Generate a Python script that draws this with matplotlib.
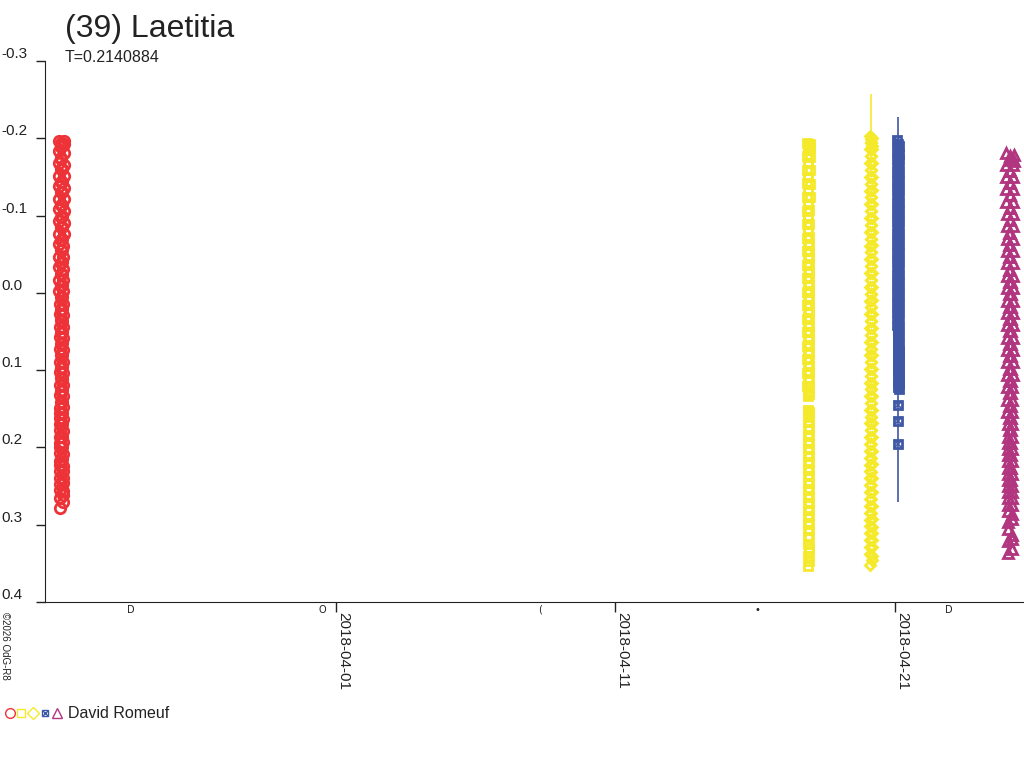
import numpy as np
import pandas as pd
import matplotlib
matplotlib.use("Agg")
import matplotlib.pyplot as plt
import matplotlib.dates as mdates
from matplotlib.ticker import FormatStrFormatter

plt.rcParams["font.family"] = ["Liberation Sans", "DejaVu Sans"]

# Object and period
title = "(39) Laetitia"
period_text = "T=0.2140884"
observer = "David Romeuf"

# Session 1: red circles (2018-03-22); minutes after start, mag in mmag
red_start = "2018-03-22 02:09"
red_min = [0, 2, 4, 6, 8, 10, 12, 14, 16, 18, 20, 22, 24, 26, 28, 30,
           32, 34, 36, 38, 40, 42, 44, 46, 48, 50, 52, 54, 56, 58, 60, 62,
           64, 66, 68, 70, 72, 74, 76, 78, 80, 82, 84, 86, 88, 90, 92, 94,
           96, 98, 100, 102, 104, 106, 108, 110, 112, 114, 116, 118, 120, 122, 124, 126,
           128, 130, 132, 134, 136, 138, 140, 142, 144, 146, 148, 150, 152, 154, 156, 158,
           160, 162, 164, 166, 168, 170, 172, 174, 176, 178, 180, 182, 184, 186, 188, 190,
           192, 194, 196, 198, 200, 202, 204, 206, 208, 210, 212, 214, 216, 218, 220, 222,
           224, 226, 228, 230, 232, 234, 236, 238, 240, 242, 244, 246, 248, 250, 252, 254]
red_mmag = [-197, -183, -168, -151, -138, -121, -108, -93, -76, -63, -47, -33, -16, -3, 14, 27,
            44, 57, 73, 89, 102, 119, 132, 149, 162, 178, 194, 207, 223, 239, 255, 279,
            266, 247, 230, 217, 200, 187, 170, 156, 141, 127, 110, 97, 80, 66, 52, 35,
            22, 5, -9, -25, -38, -55, -68, -85, -98, -114, -130, -143, -160, -173, -189, -194,
            -190, -175, -160, -144, -130, -114, -100, -85, -70, -55, -40, -25, -10, 6, 21, 36,
            51, 65, 81, 96, 111, 126, 141, 156, 170, 186, 200, 215, 231, 246, 262, 271,
            257, 240, 224, 209, 193, 179, 163, 148, 134, 119, 104, 89, 74, 59, 44, 29,
            14, -2, -17, -31, -46, -61, -76, -91, -106, -121, -136, -151, -166, -181, -192, -196]

# Session 2: yellow squares (2018-04-17)
ysq_start = "2018-04-17 20:33"
ysq_min = [0, 1, 2, 3, 4, 5, 6, 7, 8, 9, 10, 11, 12, 13, 14, 15,
           16, 17, 18, 19, 20, 21, 22, 23, 24, 25, 26, 27, 28, 29, 30, 31,
           32, 33, 34, 35, 36, 37, 38, 39, 40, 41, 42, 43, 44, 45, 46, 47,
           48, 49, 50, 51, 52, 53, 54, 55, 56, 57, 58, 59, 60, 61, 62, 63,
           64, 65, 66, 67, 68, 69, 70, 71, 72, 73, 74, 75, 76, 77, 78, 79,
           80, 81, 82, 83, 84, 85, 86, 87, 88, 89, 90, 91, 92, 93, 94, 95,
           96, 97, 98, 99, 100, 101, 102, 103, 104, 105, 106, 107, 108, 109, 110, 111,
           112, 113, 114, 115, 116, 117, 118, 119, 120, 121, 122, 123, 124, 125, 126, 127]
ysq_mmag = [-194, -177, -159, -142, -124, -106, -89, -71, -54, -36, -19, -1, 16, 34, 51, 69,
            86, 104, 121, 133, 152, 167, 185, 202, 220, 237, 255, 272, 290, 307, 325, 354,
            341, 316, 298, 281, 263, 246, 228, 211, 193, 176, 158, 153, 129, 112, 95, 77,
            60, 42, 25, 7, -10, -28, -45, -63, -80, -98, -115, -133, -150, -168, -185, -190,
            -185, -168, -150, -133, -115, -97, -80, -62, -45, -27, -10, 8, 25, 43, 60, 78,
            95, 113, 127, 154, 160, 176, 194, 211, 229, 246, 264, 281, 299, 316, 334, 347,
            330, 307, 289, 272, 254, 237, 219, 202, 184, 167, 156, 131, 121, 103, 86, 68,
            51, 33, 16, -2, -19, -37, -54, -72, -89, -107, -124, -141, -159, -176, -192, -187]

# Session 3: yellow diamonds (2018-04-20)
ydi_start = "2018-04-20 02:17"
ydi_min = [0, 1, 2, 3, 4, 5, 6, 7, 8, 9, 10, 11, 12, 13, 14, 15,
           16, 17, 18, 19, 20, 21, 22, 23, 24, 25, 26, 27, 28, 29, 30, 31,
           32, 33, 34, 35, 36, 37, 38, 39, 40, 41, 42, 43, 44, 45, 46, 47,
           48, 49, 50, 51, 52, 53, 54, 55, 56, 57, 58, 59, 60, 61, 62, 63,
           64, 65, 66, 67, 68, 69, 70, 71, 72, 73, 74, 75, 76, 77, 78, 79,
           80, 81, 82, 83, 84, 85, 86, 87, 88, 89, 90, 91, 92, 93, 94, 95,
           96, 97, 98, 99, 100, 101, 102, 103, 104, 105, 106, 107, 108, 109, 110, 111,
           112, 113, 114, 115, 116, 117, 118, 119, 120, 121, 122, 123, 124, 125, 126, 127]
ydi_mmag = [-203, -186, -168, -150, -132, -115, -97, -79, -61, -44, -26, -8, 10, 27, 45, 63,
            81, 98, 116, 134, 152, 169, 187, 205, 223, 240, 258, 276, 294, 311, 329, 352,
            338, 320, 302, 285, 267, 249, 231, 214, 196, 178, 160, 143, 125, 107, 89, 72,
            54, 36, 18, 1, -17, -35, -53, -70, -88, -106, -124, -141, -159, -177, -194, -199,
            -195, -177, -159, -141, -124, -106, -88, -70, -53, -35, -17, 1, 18, 36, 54, 72,
            89, 107, 125, 143, 161, 178, 196, 214, 232, 249, 267, 285, 303, 320, 340, 346,
            329, 311, 293, 276, 258, 240, 222, 205, 187, 169, 151, 134, 116, 98, 80, 63,
            45, 27, 9, -8, -26, -44, -62, -79, -97, -115, -133, -150, -168, -186, -200, -190]

# Session 4: blue crossed squares (2018-04-21)
blu_start = "2018-04-21 01:50"
blu_min = [0, 1, 2, 3, 4, 5, 6, 7, 8, 9, 10, 11, 12, 13, 14, 15,
           16, 17, 18, 19, 20, 21, 22, 23, 24, 25, 26, 27, 28, 29, 30, 31,
           32, 33, 34, 35, 36, 37, 38, 39, 40, 41, 42, 43, 44, 45, 46, 47,
           48, 49, 50, 51, 52, 53, 54, 55, 56, 57, 58, 59, 60, 61, 62, 63,
           64, 65, 66, 67, 68, 69, 70, 71, 72, 73, 74, 75, 76, 77, 78, 79,
           80, 81, 82, 83, 84, 85, 86, 87, 88, 89, 90, 91, 92, 93, 94, 95,
           96, 97, 98, 99]
blu_mmag = [-198, -185, -172, -158, -145, -132, -118, -105, -92, -78, -65, -52, -38, -25, -12, 2,
            15, 28, 42, 55, 68, 82, 95, 108, 122, 145, 166, 196, 116, 101, 88, 75,
            61, 48, 35, 21, 8, -5, -18, -32, -45, -58, -72, -85, -98, -112, -125, -138,
            -152, -165,
            -192, -178, -165, -152, -138, -125, -112, -98, -85, -72, -58, -45, -32, -18, -5, 8,
            22, 35, 48, 62, 75, 88, 102, 115, 125, 118, 109, 95, 81, 68, 55, 41,
            28, 15, 1, -12, -25, -38, -52, -65, -78, -92, -105, -118, -132, -145, -158, -172,
            -180, -190]

# Session 5: magenta triangles (2018-04-25)
mag_start = "2018-04-24 23:29"
mag_min = [0, 3, 6, 9, 12, 15, 18, 21, 24, 27, 30, 33, 36, 39, 42, 45,
           48, 51, 54, 57, 60, 63, 66, 69, 72, 75, 78, 81, 84, 87, 90, 93,
           96, 99, 102, 105, 108, 111, 114, 117, 120, 123, 126, 129, 132, 135, 138, 141,
           144, 147, 150, 153, 156, 159, 162, 165, 168, 171, 174, 177, 180, 183, 186, 189,
           192, 195, 198, 201, 204, 207, 210, 213, 216, 219, 222, 225, 228, 231, 234, 237,
           240, 243, 246, 249, 252, 255, 258, 261, 264, 267, 270, 273, 276, 279, 282, 285,
           288, 291, 294, 297, 300, 303, 306, 309, 312, 315, 318, 321, 324, 327, 330, 333,
           336, 339, 342, 345, 348, 351, 354, 357, 360, 363, 366, 369, 372, 375, 378, 381]
mag_mmag = [-181, -166, -150, -134, -118, -102, -86, -70, -54, -38, -22, -6, 10, 26, 42, 58,
            74, 90, 106, 122, 138, 154, 170, 186, 202, 218, 234, 250, 266, 282, 305, 336,
            321, 297, 274, 258, 242, 226, 210, 194, 178, 162, 146, 130, 114, 98, 82, 66,
            50, 34, 18, 2, -14, -30, -46, -62, -78, -94, -110, -126, -142, -158, -172, -177,
            -174, -158, -142, -126, -110, -94, -78, -62, -46, -30, -14, 2, 18, 34, 50, 66,
            82, 98, 114, 130, 146, 162, 178, 194, 210, 226, 242, 258, 274, 292, 318, 331,
            313, 286, 266, 250, 234, 218, 202, 186, 170, 154, 138, 122, 106, 90, 74, 58,
            42, 26, 10, -6, -22, -38, -54, -70, -86, -102, -118, -134, -150, -166, -179, -170]

# Points with large error bars
err_dates = ["2018-04-20 03:20", "2018-04-21 02:40", "2018-04-21 02:40"]
err_mag = [-0.205, -0.198, 0.196]
err_size = [0.052, 0.030, 0.075]
err_color = ["#F5E92B", "#3F58A6", "#3F58A6"]

# Moon phases below the axis
moon_dates = ["2018-03-24 15:35", "2018-03-31 12:37", "2018-04-08 07:18",
              "2018-04-16 01:57", "2018-04-22 21:46"]
moon_symbols = ["D", "O", "(", "\u2022", "D"]

x_ticks = ["2018-04-01", "2018-04-11", "2018-04-21"]
y_ticks = [-0.3, -0.2, -0.1, 0.0, 0.1, 0.2, 0.3, 0.4]

txt = "#222222"

fig = plt.figure(figsize=(10.24, 7.68), dpi=100)
ax = fig.add_axes([45 / 1024, 1 - 602 / 768, 1 - 45 / 1024, 541 / 768])


def times(start, minutes):
    return mdates.date2num(pd.Timestamp(start) + pd.to_timedelta(minutes, unit="min"))


def mags(mmag):
    return np.array(mmag) / 1000.0


ax.plot(times(red_start, red_min), mags(red_mmag), "o", ms=7.5, mfc="none", mec="#EE3338", mew=2.0)
ax.plot(times(ysq_start, ysq_min), mags(ysq_mmag), "s", ms=5.3, mfc="none", mec="#F5E92B", mew=2.0)
ax.plot(times(ydi_start, ydi_min), mags(ydi_mmag), "D", ms=5.6, mfc="none", mec="#F5E92B", mew=2.0)
ax.plot(times(blu_start, blu_min), mags(blu_mmag), "s", ms=5.2, mfc="none", mec="#3F58A6", mew=2.0)
ax.plot(times(blu_start, blu_min), mags(blu_mmag), "x", ms=5.2, mec="#3F58A6", mew=1.2)
ax.plot(times(mag_start, mag_min), mags(mag_mmag), "^", ms=6.6, mfc="none", mec="#B1357F", mew=2.0)

for d, m, e, c in zip(err_dates, err_mag, err_size, err_color):
    ax.errorbar(mdates.date2num(pd.Timestamp(d)), m, yerr=e, fmt="none", ecolor=c, elinewidth=1.2)

ax.set_xlim(mdates.date2num(pd.Timestamp("2018-03-21 14:10")),
            mdates.date2num(pd.Timestamp("2018-04-25 14:45")))
ax.set_ylim(0.4, -0.3)

ax.set_yticks(y_ticks)
ax.yaxis.set_major_formatter(FormatStrFormatter("%.1f"))
ax.set_xticks([mdates.date2num(pd.Timestamp(d)) for d in x_ticks])
ax.set_xticklabels(x_ticks, rotation=270, ha="left", va="top")

ax.tick_params(axis="y", direction="out", length=6.5, width=1, colors=txt, labelsize=11, pad=25)
ax.tick_params(axis="x", direction="out", length=7, width=1, colors=txt, labelsize=11, pad=0)
for t in ax.yaxis.get_major_ticks():
    t.label1.set_horizontalalignment("left")
    t.label1.set_verticalalignment("bottom")

for s in ["top", "right"]:
    ax.spines[s].set_visible(False)
for s in ["left", "bottom"]:
    ax.spines[s].set_color(txt)

for d, sym in zip(moon_dates, moon_symbols):
    ax.text(mdates.date2num(pd.Timestamp(d)), -0.005, sym, transform=ax.get_xaxis_transform(),
            ha="center", va="top", fontsize=7, color=txt, family=["DejaVu Sans"])

# Titles
fig.text(65 / 1024, 1 - 29 / 768, title, fontsize=23, color=txt, va="center")
fig.text(65 / 1024, 1 - 58 / 768, period_text, fontsize=11.5, color=txt, va="center")

# Copyright
fig.text(5 / 1024, 1 - 612 / 768, "\u00a92026 OdG-R8", fontsize=7, rotation=270,
         ha="center", va="top", color=txt)

# Legend row
lax = fig.add_axes([0, 0, 1, 1])
lax.set_xlim(0, 1024)
lax.set_ylim(768, 0)
lax.axis("off")
lax.plot(10, 713, "o", ms=7, mfc="none", mec="#EE3338", mew=1)
lax.plot(21, 713, "s", ms=5.5, mfc="none", mec="#F5E92B", mew=1)
lax.plot(33, 713, "D", ms=6, mfc="none", mec="#F5E92B", mew=1)
lax.plot(45, 713, "s", ms=5, mfc="none", mec="#3F58A6", mew=1)
lax.plot(45, 713, "x", ms=5, mec="#3F58A6", mew=1)
lax.plot(57, 713, "^", ms=6.5, mfc="none", mec="#B1357F", mew=1)
lax.text(68, 713, observer, fontsize=11.5, color=txt, va="center")

fig.savefig("out.png", dpi=100)
